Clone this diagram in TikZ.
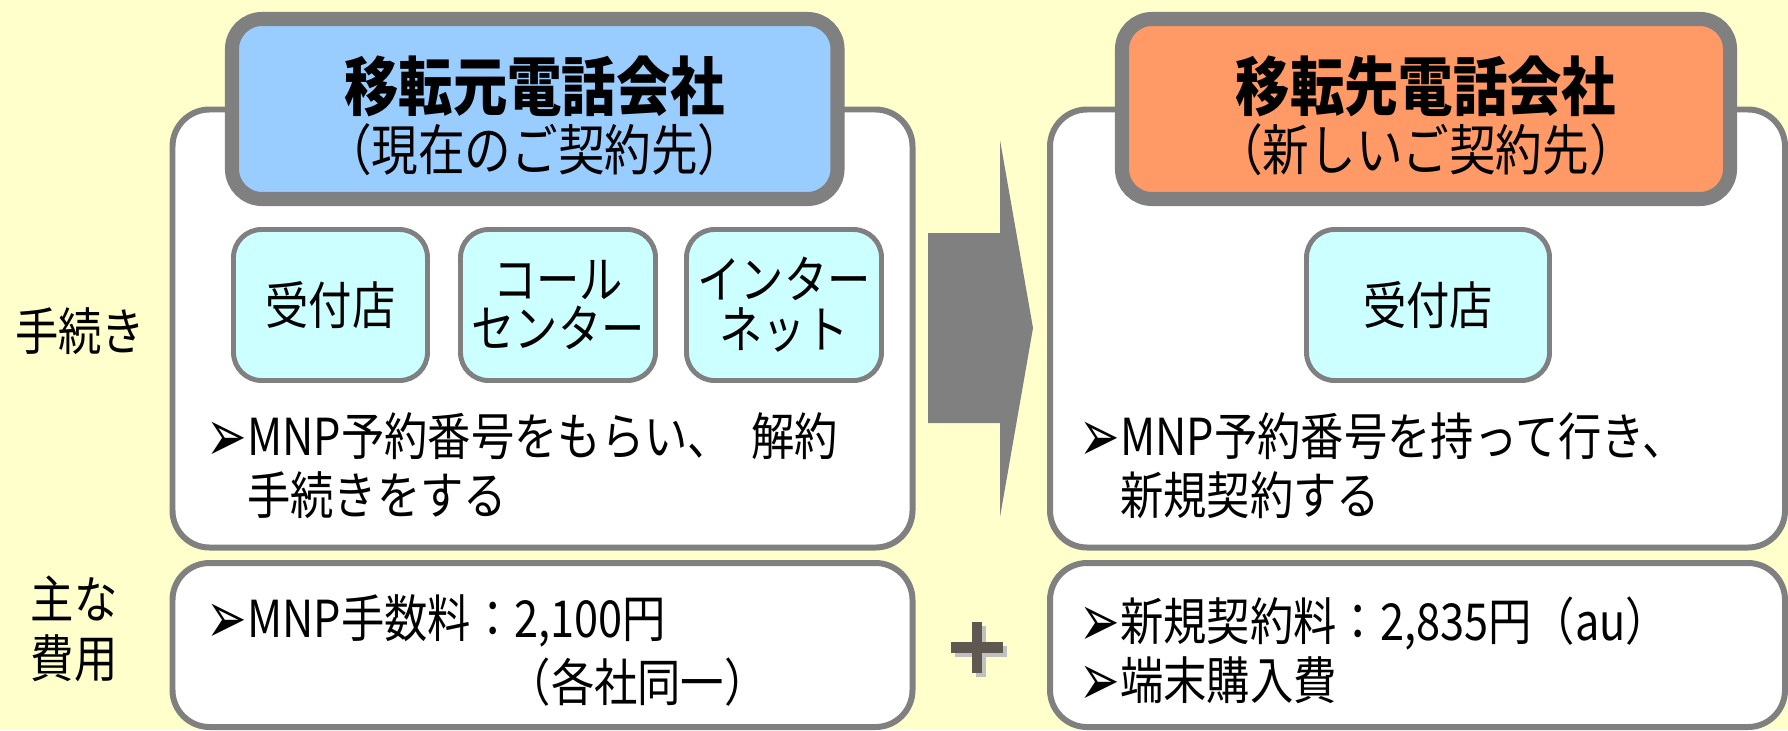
\documentclass[tikz,border=0pt]{standalone}
\usepackage{fontspec}
\setmainfont{Noto Sans CJK JP}[FakeStretch=0.85]
\newfontfamily\symfont{DejaVu Sans}
\usepackage{xcolor}
\definecolor{bgyellow}{HTML}{FFFFCC}
\definecolor{rimgray}{HTML}{808080}
\definecolor{oldblue}{HTML}{99CCFF}
\definecolor{neworange}{HTML}{FF9966}
\definecolor{shopcyan}{HTML}{CCFFFF}
\definecolor{plusgray}{HTML}{5F5850}
\definecolor{shadowgray}{HTML}{C0C0C0}

\newcommand{\bulletmark}{\raisebox{-0.12em}{\scalebox{0.95}[1.45]{\symfont ➢}}}

\tikzset{
  companybox/.style={draw=rimgray, line width=1.7pt, fill=white, rounded corners=0.37cm, inner sep=0pt},
  headbox/.style={draw=rimgray, line width=4pt, rounded corners=0.3cm, minimum height=1.80cm, inner sep=0pt},
  shopbox/.style={draw=rimgray, line width=1.4pt, fill=shopcyan, rounded corners=0.28cm, minimum height=1.51cm, inner sep=0pt, align=center, font=\fontsize{14.5}{14.2}\selectfont},
  bodytext/.style={inner sep=0pt, align=left, font=\fontsize{14.5}{16.8}\selectfont},
  titletext/.style={inner sep=0pt, font=\fontsize{18.2}{20}\selectfont\bfseries},
  subtext/.style={inner sep=0pt, font=\fontsize{15.6}{17}\selectfont},
}

\begin{document}
\begin{tikzpicture}

\fill [bgyellow] (0,0) rectangle (17.88,-7.30) ;
\useasboundingbox (0,0) rectangle (17.88,-7.30) ;

%row labels
\node [bodytext] (proclabel) at (0.80,-3.31) {手続き} ;
\node [bodytext, align=center] (costlabel) at (0.74,-6.29) {主な\\費用} ;

%old company
\node [companybox, minimum width=7.40cm, minimum height=4.38cm] (oldco) at (5.425,-3.285) {} ;
\node [headbox, fill=oldblue, minimum width=6.055cm] (oldhead) at (5.3475,-1.09) {} ;
\node [titletext] (oldtitle) at ([yshift=0.23cm]oldhead.center) {移転元電話会社} ;
\node [subtext] (oldsub) at ([yshift=-0.41cm]oldhead.center) {（現在のご契約先）} ;

\node [shopbox, minimum width=1.94cm] (oldshop) at (3.305,-3.05) {受付店} ;
\node [shopbox, minimum width=1.95cm] (oldcall) at (5.58,-3.05) {コール\\センター} ;
\node [shopbox, minimum width=1.95cm] (oldnet) at (7.84,-3.05) {インター\\ネット} ;

\node [bodytext, anchor=west] (oldtodo) at (2.06,-4.665)
  {\bulletmark MNP予約番号をもらい、\hspace{0.4em}解約\\\phantom{\bulletmark}手続きをする} ;

%new company
\node [companybox, minimum width=7.35cm, minimum height=4.38cm] (newco) at (14.175,-3.285) {} ;
\node [headbox, fill=neworange, minimum width=6.08cm] (newhead) at (14.26,-1.09) {} ;
\node [titletext] (newtitle) at ([yshift=0.23cm]newhead.center) {移転先電話会社} ;
\node [subtext] (newsub) at ([yshift=-0.41cm]newhead.center) {（新しいご契約先）} ;

\node [shopbox, minimum width=2.43cm] (newshop) at (14.28,-3.05) {受付店} ;

\node [bodytext, anchor=west] (newtodo) at (10.79,-4.665)
  {\bulletmark MNP予約番号を持って行き、\\\phantom{\bulletmark}新規契約する} ;

%move arrow
\fill [rimgray] (9.28,-2.33) -- (10.00,-2.33) -- (10.00,-1.40) -- (10.33,-3.28)
  -- (10.00,-5.17) -- (10.00,-4.23) -- (9.28,-4.23) -- cycle ;

%cost boxes
\node [companybox, minimum width=7.40cm, minimum height=1.64cm] (oldcost) at (5.425,-6.45) {} ;
\node [companybox, minimum width=7.35cm, minimum height=1.64cm] (newcost) at (14.175,-6.45) {} ;

\node [bodytext, anchor=west] (oldfee) at (2.06,-6.21) {\bulletmark MNP手数料：2,100円} ;
\node [bodytext, anchor=west] (oldfeenote) at (5.07,-6.82) {（各社同一）} ;

\node [bodytext, anchor=west] (newfee) at (10.79,-6.515)
  {\bulletmark 新規契約料：2,835円（au）\\\bulletmark 端末購入費} ;

%plus
\fill [shadowgray, shift={(0.04,-0.04)}] (9.51,-6.42) rectangle (10.03,-6.53) ;
\fill [shadowgray, shift={(0.04,-0.04)}] (9.72,-6.22) rectangle (9.82,-6.73) ;
\fill [plusgray] (9.51,-6.42) rectangle (10.03,-6.53) ;
\fill [plusgray] (9.72,-6.22) rectangle (9.82,-6.73) ;

\end{tikzpicture}
\end{document}
